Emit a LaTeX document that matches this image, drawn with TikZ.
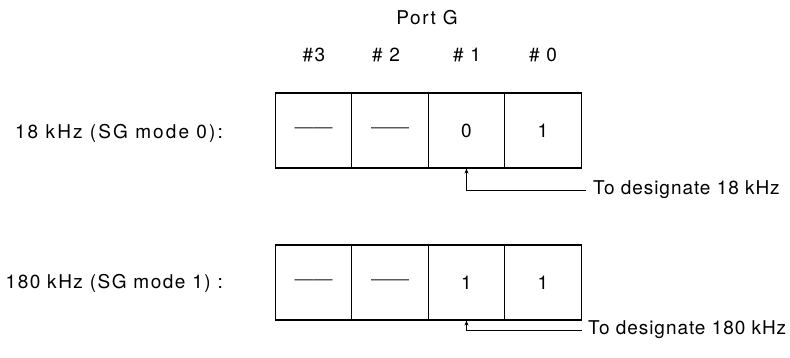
\documentclass[tikz,border=0pt]{standalone}
\usepackage{fontspec}
\setmainfont{TeX Gyre Heros}[LetterSpace=8]
\newfontfamily\dashfont{TeX Gyre Heros}
\newfontfamily\notefont{TeX Gyre Heros}[LetterSpace=5]
\newfontfamily\widefont{TeX Gyre Heros}[LetterSpace=11]
\usetikzlibrary{arrows.meta}
\tikzset{
  cell/.style={draw, line width=1.1pt, minimum width=76.5pt, minimum height=75pt, inner sep=0pt, font=\fontsize{19}{22}\selectfont},
  lbl/.style={inner sep=0pt, font=\fontsize{19}{22}\selectfont},
  note/.style={inner sep=0pt, anchor=west, font=\notefont\fontsize{19}{22}\selectfont},
  conn/.style={line width=0.8pt, -{Stealth[length=5pt,width=4pt]}}
}
\newcommand{\celldash}{{\dashfont\fontsize{19}{22}\selectfont\textcolor{black!70}{——}}}
\begin{document}
\begin{tikzpicture}[x=1pt,y=-1pt]
\useasboundingbox (0,0) rectangle (790,357);
% headings
\node[lbl] (port) at (427,18) {Port G};
\node[lbl] (h3) at (314,55) {\#3};
\node[lbl] (h2) at (386,55) {\# 2};
\node[lbl] (h1) at (467,55) {\# 1};
\node[lbl] (h0) at (543,55) {\# 0};
% row 1
\node[lbl, anchor=east, font=\widefont\fontsize{19}{22}\selectfont] (l1) at (223,133) {18 kHz (SG mode 0):};
\node[cell] (a3) at (313.5,130.5) {\celldash};
\node[cell] (a2) at (390,130.5) {\celldash};
\node[cell] (a1) at (466.5,130.5) {0};
\node[cell] (a0) at (543,130.5) {1};
\node[note] (t1) at (593,190) {To designate 18 kHz};
\draw[conn] (t1.west) ++(-7,0) coordinate (e1) -| (a1.south);
% row 2
\node[lbl, anchor=east] (l2) at (223,283) {180 kHz (SG mode 1) :};
\node[cell] (b3) at (313.5,282.5) {\celldash};
\node[cell] (b2) at (390,282.5) {\celldash};
\node[cell] (b1) at (466.5,282.5) {1};
\node[cell] (b0) at (543,282.5) {1};
\node[note] (t2) at (588,330) {To designate 180 kHz};
\draw[conn] (t2.west) ++(-6,0) coordinate (e2) -| (b1.south);
\end{tikzpicture}
\end{document}
